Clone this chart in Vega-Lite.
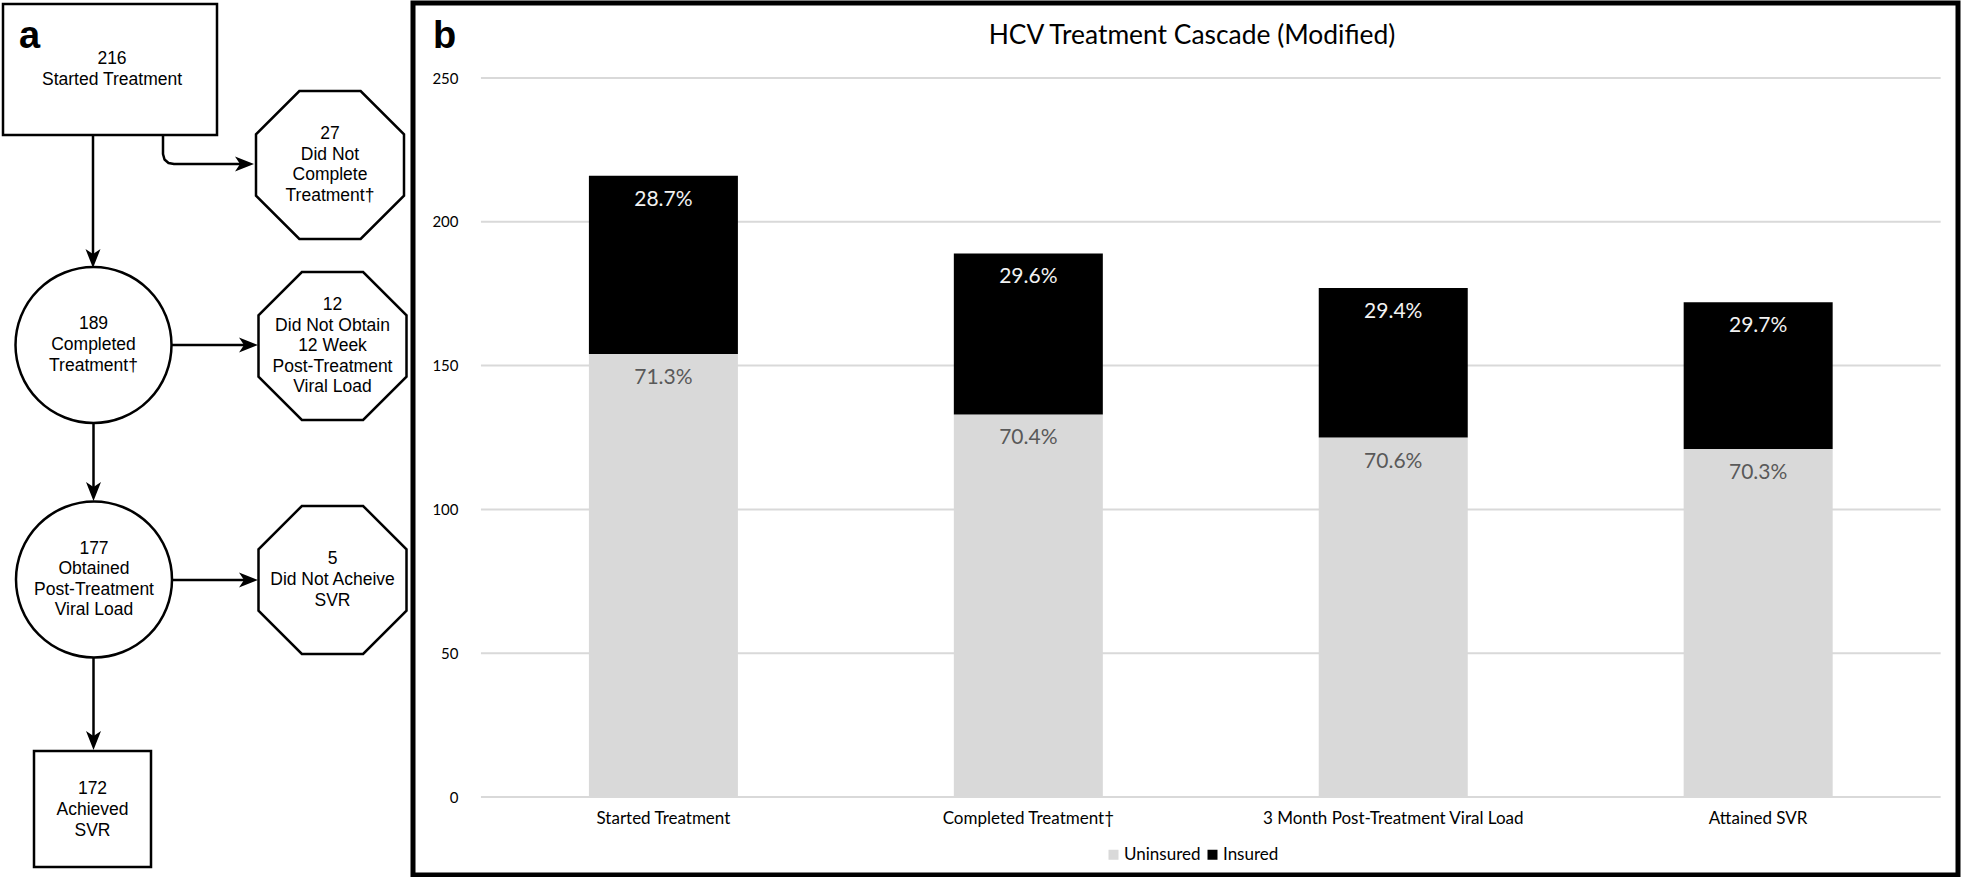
{
  "$schema": "https://vega.github.io/schema/vega-lite/v6.json",
  "padding": 0,
  "background": "white",
  "spacing": 3,
  "bounds": "flush",
  "config": {"view": {"stroke": null}},
  "datasets": {
    "cascade": [
      {"stage": "Started Treatment", "step": 1, "group": "Uninsured", "count": 154, "pct": "71.3%"},
      {"stage": "Started Treatment", "step": 1, "group": "Insured", "count": 62, "pct": "28.7%"},
      {"stage": "Completed Treatment†", "step": 2, "group": "Uninsured", "count": 133, "pct": "70.4%"},
      {"stage": "Completed Treatment†", "step": 2, "group": "Insured", "count": 56, "pct": "29.6%"},
      {"stage": "3 Month Post-Treatment Viral Load", "step": 3, "group": "Uninsured", "count": 125, "pct": "70.6%"},
      {"stage": "3 Month Post-Treatment Viral Load", "step": 3, "group": "Insured", "count": 52, "pct": "29.4%"},
      {"stage": "Attained SVR", "step": 4, "group": "Uninsured", "count": 121, "pct": "70.3%"},
      {"stage": "Attained SVR", "step": 4, "group": "Insured", "count": 51, "pct": "29.7%"}
    ],
    "ticks": [{"tick": 0}, {"tick": 50}, {"tick": 100}, {"tick": 150}, {"tick": 200}, {"tick": 250}],
    "nodes": [
      {"id": "n1", "type": "rect", "cx": 112, "cy": 68.5, "x1": 3, "x2": 217, "y1": 3, "y2": 134, "label": "216\nStarted Treatment"},
      {"id": "n2", "type": "octagon", "cx": 330, "cy": 164, "label": "27\nDid Not\nComplete\nTreatment†"},
      {"id": "n3", "type": "circle", "cx": 93.5, "cy": 344, "label": "189\nCompleted\nTreatment†"},
      {"id": "n4", "type": "octagon", "cx": 332.5, "cy": 345, "label": "12\nDid Not Obtain\n12 Week\nPost-Treatment\nViral Load"},
      {"id": "n5", "type": "circle", "cx": 94, "cy": 578.5, "label": "177\nObtained\nPost-Treatment\nViral Load"},
      {"id": "n6", "type": "octagon", "cx": 332.5, "cy": 579, "label": "5\nDid Not Acheive\nSVR"},
      {"id": "n7", "type": "rect", "cx": 92.5, "cy": 808.5, "x1": 34, "x2": 151, "y1": 750, "y2": 866, "label": "172\nAchieved\nSVR"}
    ],
    "edges": [
      {"edge": "e1", "seq": 1, "px": 93, "py": 134},
      {"edge": "e1", "seq": 2, "px": 93, "py": 254},
      {"edge": "e2", "seq": 1, "px": 163, "py": 134},
      {"edge": "e2", "seq": 2, "px": 163, "py": 153},
      {"edge": "e2", "seq": 3, "px": 164.5, "py": 158.5},
      {"edge": "e2", "seq": 4, "px": 168.5, "py": 162},
      {"edge": "e2", "seq": 5, "px": 174, "py": 163},
      {"edge": "e2", "seq": 6, "px": 240, "py": 163},
      {"edge": "e3", "seq": 1, "px": 171, "py": 344},
      {"edge": "e3", "seq": 2, "px": 244, "py": 344},
      {"edge": "e4", "seq": 1, "px": 93.5, "py": 421},
      {"edge": "e4", "seq": 2, "px": 93.5, "py": 486},
      {"edge": "e5", "seq": 1, "px": 171, "py": 579},
      {"edge": "e5", "seq": 2, "px": 244, "py": 579},
      {"edge": "e6", "seq": 1, "px": 93.5, "py": 656},
      {"edge": "e6", "seq": 2, "px": 93.5, "py": 735}
    ],
    "arrows": [
      {"ax": 93, "ay": 267, "dir": "down"},
      {"ax": 254, "ay": 163, "dir": "right"},
      {"ax": 258, "ay": 344, "dir": "right"},
      {"ax": 93.5, "ay": 500, "dir": "down"},
      {"ax": 258, "ay": 579, "dir": "right"},
      {"ax": 93.5, "ay": 749, "dir": "down"}
    ]
  },
  "hconcat": [
    {
      "width": 410,
      "height": 872,
      "layer": [
        {
          "data": {"name": "edges"},
          "mark": {"type": "line", "color": "#000000", "strokeWidth": 2.5, "strokeJoin": "round"},
          "encoding": {
            "x": {"field": "px", "type": "quantitative", "scale": {"domain": [0, 410], "nice": false, "zero": false}, "axis": null},
            "y": {"field": "py", "type": "quantitative", "scale": {"domain": [2, 874], "nice": false, "zero": false, "reverse": true}, "axis": null},
            "detail": {"field": "edge"},
            "order": {"field": "seq", "type": "quantitative"}
          }
        },
        {
          "data": {"name": "nodes"},
          "transform": [{"filter": "datum.type === 'rect'"}],
          "mark": {"type": "rect", "fill": "#ffffff", "stroke": "#000000", "strokeWidth": 2.5},
          "encoding": {
            "x": {"field": "x1", "type": "quantitative", "axis": null},
            "x2": {"field": "x2"},
            "y": {"field": "y1", "type": "quantitative", "axis": null},
            "y2": {"field": "y2"}
          }
        },
        {
          "data": {"name": "nodes"},
          "transform": [{"filter": "datum.type === 'circle'"}],
          "mark": {"type": "point", "shape": "circle", "size": 24336, "filled": true, "fill": "#ffffff", "stroke": "#000000", "strokeWidth": 2.5, "opacity": 1},
          "encoding": {
            "x": {"field": "cx", "type": "quantitative", "axis": null},
            "y": {"field": "cy", "type": "quantitative", "axis": null}
          }
        },
        {
          "data": {"name": "nodes"},
          "transform": [{"filter": "datum.type === 'octagon'"}],
          "mark": {"type": "point", "shape": "M-0.414,-1L0.414,-1L1,-0.414L1,0.414L0.414,1L-0.414,1L-1,0.414L-1,-0.414Z", "size": 21904, "filled": true, "fill": "#ffffff", "stroke": "#000000", "strokeWidth": 2.5, "opacity": 1},
          "encoding": {
            "x": {"field": "cx", "type": "quantitative", "axis": null},
            "y": {"field": "cy", "type": "quantitative", "axis": null}
          }
        },
        {
          "data": {"name": "arrows"},
          "mark": {"type": "point", "size": 400, "filled": true, "fill": "#000000", "strokeWidth": 0, "opacity": 1},
          "encoding": {
            "x": {"field": "ax", "type": "quantitative", "axis": null},
            "y": {"field": "ay", "type": "quantitative", "axis": null},
            "shape": {"field": "dir", "type": "nominal", "scale": {"domain": ["down", "right"], "range": ["M0,0L-0.75,-1.9L0,-1.4L0.75,-1.9Z", "M0,0L-1.9,-0.75L-1.4,0L-1.9,0.75Z"]}, "legend": null}
          }
        },
        {
          "data": {"name": "nodes"},
          "transform": [{"filter": "split(datum.label, '\\n').length === 2"}],
          "mark": {"type": "text", "font": "Liberation Sans", "fontSize": 17.5, "lineHeight": 21, "lineBreak": "\n", "baseline": "middle", "align": "center", "color": "#000000", "dy": -10.5},
          "encoding": {
            "x": {"field": "cx", "type": "quantitative", "axis": null},
            "y": {"field": "cy", "type": "quantitative", "axis": null},
            "text": {"field": "label"}
          }
        },
        {
          "data": {"name": "nodes"},
          "transform": [{"filter": "split(datum.label, '\\n').length === 3"}],
          "mark": {"type": "text", "font": "Liberation Sans", "fontSize": 17.5, "lineHeight": 21, "lineBreak": "\n", "baseline": "middle", "align": "center", "color": "#000000", "dy": -21},
          "encoding": {
            "x": {"field": "cx", "type": "quantitative", "axis": null},
            "y": {"field": "cy", "type": "quantitative", "axis": null},
            "text": {"field": "label"}
          }
        },
        {
          "data": {"name": "nodes"},
          "transform": [{"filter": "split(datum.label, '\\n').length === 4"}],
          "mark": {"type": "text", "font": "Liberation Sans", "fontSize": 17.5, "lineHeight": 20.5, "lineBreak": "\n", "baseline": "middle", "align": "center", "color": "#000000", "dy": -30.75},
          "encoding": {
            "x": {"field": "cx", "type": "quantitative", "axis": null},
            "y": {"field": "cy", "type": "quantitative", "axis": null},
            "text": {"field": "label"}
          }
        },
        {
          "data": {"name": "nodes"},
          "transform": [{"filter": "split(datum.label, '\\n').length === 5"}],
          "mark": {"type": "text", "font": "Liberation Sans", "fontSize": 17.5, "lineHeight": 20.5, "lineBreak": "\n", "baseline": "middle", "align": "center", "color": "#000000", "dy": -41},
          "encoding": {
            "x": {"field": "cx", "type": "quantitative", "axis": null},
            "y": {"field": "cy", "type": "quantitative", "axis": null},
            "text": {"field": "label"}
          }
        },
        {
          "data": {"values": [{"t": "a"}]},
          "mark": {"type": "text", "font": "Liberation Sans", "fontWeight": "bold", "fontSize": 38, "align": "left", "baseline": "alphabetic", "color": "#000000"},
          "encoding": {
            "x": {"datum": 19, "type": "quantitative"},
            "y": {"datum": 47, "type": "quantitative"},
            "text": {"field": "t"}
          }
        }
      ]
    },
    {
      "width": 1545,
      "height": 872,
      "view": {"stroke": "#000000", "strokeWidth": 5, "fill": "#ffffff"},
      "layer": [
        {
          "data": {"name": "ticks"},
          "mark": {"type": "rule", "color": "#d9d9d9", "strokeWidth": 2},
          "encoding": {
            "x": {"datum": 0.5, "type": "quantitative", "scale": {"domain": [0.3275, 4.5339], "nice": false, "zero": false}, "axis": null},
            "x2": {"datum": 4.5},
            "y": {"field": "tick", "type": "quantitative", "scale": {"domain": [-27.12, 276.08], "nice": false, "zero": false},
              "axis": {"values": [0, 50, 100, 150, 200, 250], "title": null, "grid": false, "domain": false, "ticks": false, "tickSize": 0, "labelPadding": 5, "offset": -50, "labelFont": "Lato", "labelFontSize": 15, "labelColor": "#000000"}}
          }
        },
        {
          "data": {"name": "cascade"},
          "transform": [{"stack": "count", "groupby": ["stage"], "sort": [{"field": "group", "order": "descending"}], "as": ["y0", "y1"]}],
          "mark": {"type": "bar", "size": 149},
          "encoding": {
            "x": {"field": "step", "type": "quantitative", "axis": null},
            "y": {"field": "y1", "type": "quantitative"},
            "y2": {"field": "y0"},
            "color": {"field": "group", "type": "nominal", "scale": {"domain": ["Uninsured", "Insured"], "range": ["#d9d9d9", "#000000"]},
              "legend": {"orient": "none", "legendX": 1105, "legendY": 843, "direction": "horizontal", "title": null, "symbolType": "square", "symbolSize": 100, "symbolStrokeWidth": 0, "labelFont": "Lato", "labelFontSize": 17, "labelColor": "#000000", "columnPadding": 3, "labelOffset": 2}}
          }
        },
        {
          "data": {"name": "cascade"},
          "transform": [{"stack": "count", "groupby": ["stage"], "sort": [{"field": "group", "order": "descending"}], "as": ["y0", "y1"]}],
          "mark": {"type": "text", "font": "Lato", "fontSize": 21, "baseline": "middle", "align": "center", "dy": 24},
          "encoding": {
            "x": {"field": "step", "type": "quantitative", "axis": null},
            "y": {"field": "y1", "type": "quantitative"},
            "text": {"field": "pct"},
            "color": {"condition": {"test": "datum.group === 'Insured'", "value": "#f2f2f2"}, "value": "#595959"}
          }
        },
        {
          "data": {"name": "cascade"},
          "transform": [{"filter": "datum.group === 'Uninsured'"}],
          "mark": {"type": "text", "font": "Lato", "fontSize": 17, "baseline": "middle", "align": "center", "color": "#000000"},
          "encoding": {
            "x": {"field": "step", "type": "quantitative", "axis": null},
            "y": {"datum": -7.65, "type": "quantitative"},
            "text": {"field": "stage"}
          }
        },
        {
          "data": {"values": [{"t": "HCV Treatment Cascade (Modified)"}]},
          "mark": {"type": "text", "font": "Lato", "fontSize": 26.4, "baseline": "middle", "align": "center", "color": "#000000"},
          "encoding": {
            "x": {"datum": 2.4484, "type": "quantitative", "axis": null},
            "y": {"datum": 264.6, "type": "quantitative"},
            "text": {"field": "t"}
          }
        },
        {
          "data": {"values": [{"t": "b"}]},
          "mark": {"type": "text", "font": "Liberation Sans", "fontWeight": "bold", "fontSize": 38, "align": "left", "baseline": "alphabetic", "color": "#000000"},
          "encoding": {
            "x": {"datum": 0.3683, "type": "quantitative", "axis": null},
            "y": {"datum": 260.6, "type": "quantitative"},
            "text": {"field": "t"}
          }
        }
      ]
    }
  ]
}
